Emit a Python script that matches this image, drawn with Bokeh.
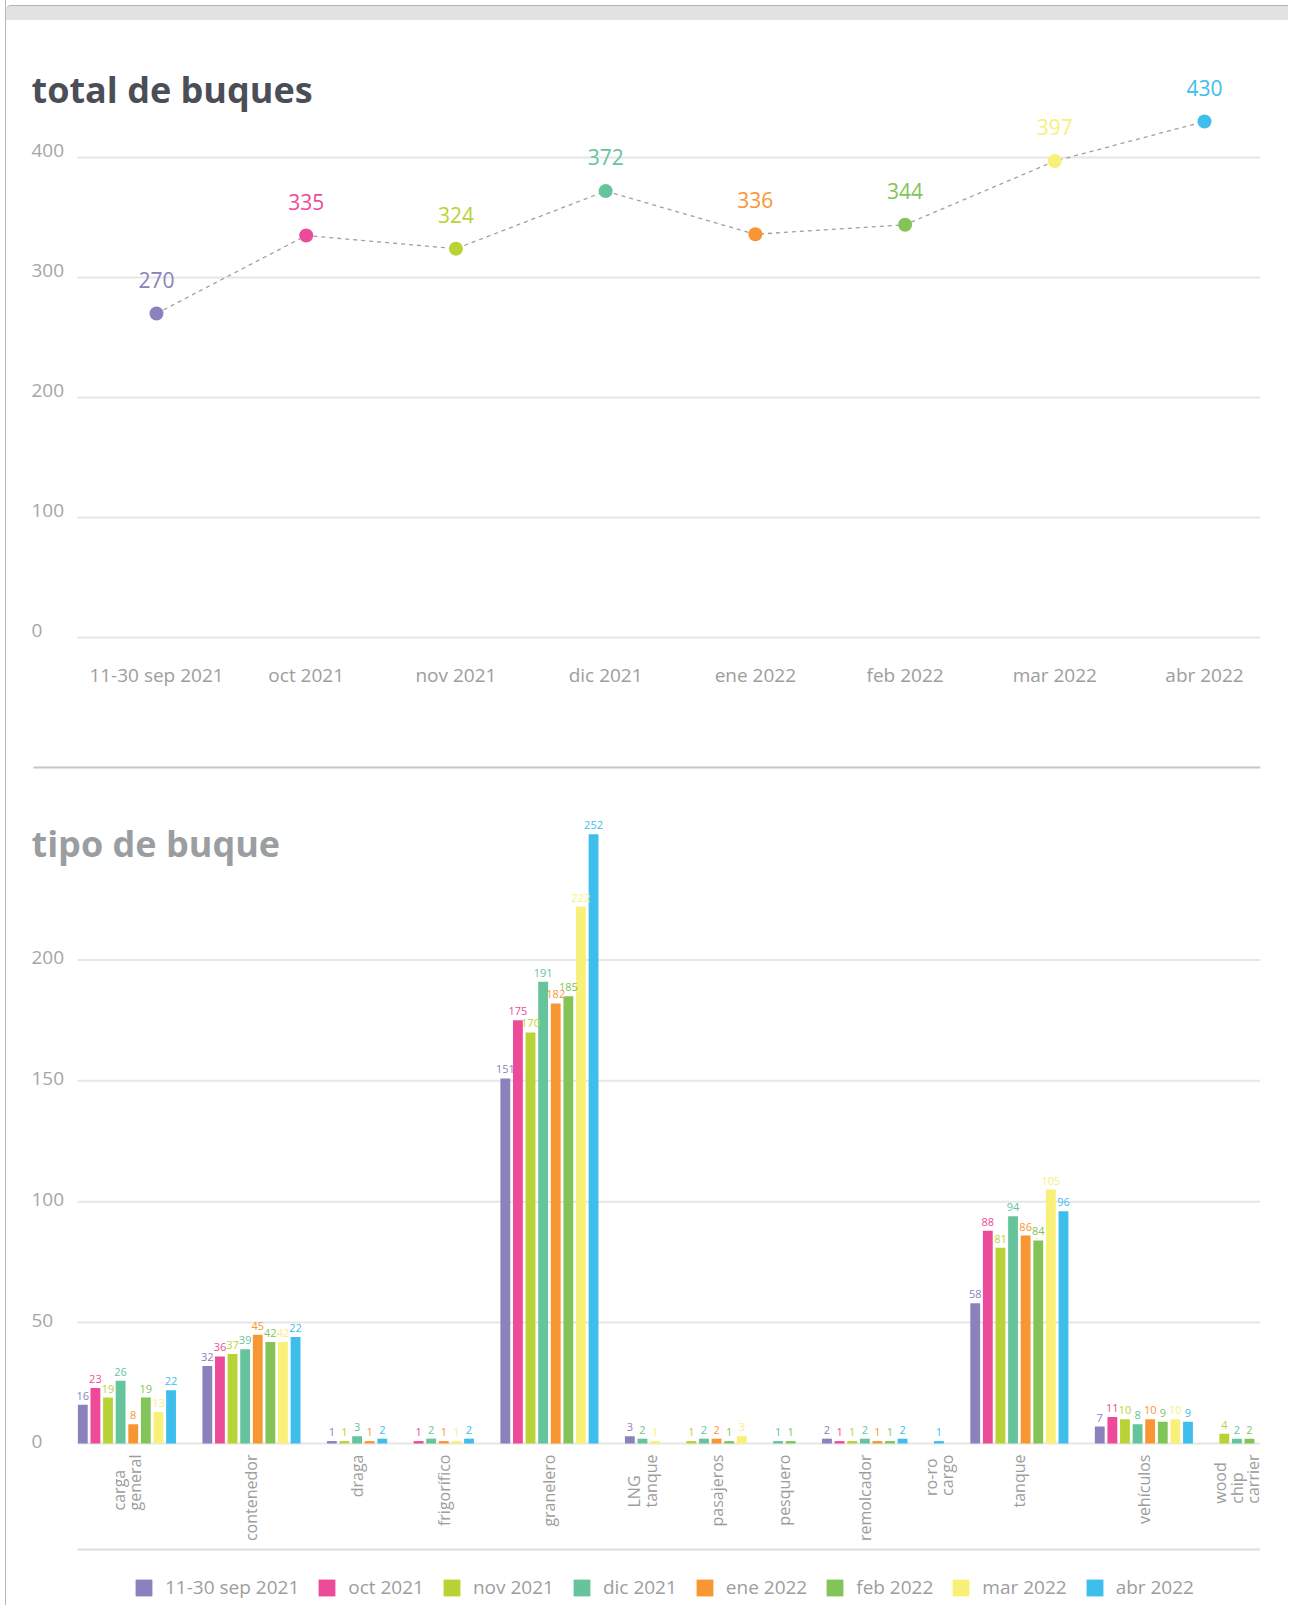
import math
from bokeh.plotting import figure
from bokeh.models import (ColumnDataSource, Range1d, FixedTicker, LabelSet, Div)
from bokeh.layouts import column
from bokeh.embed import file_html
from bokeh.resources import INLINE
from bokeh.core.properties import field, value

FONT = "Open Sans"

# ---------------- data ----------------
months = ["11-30 sep 2021", "oct 2021", "nov 2021", "dic 2021",
          "ene 2022", "feb 2022", "mar 2022", "abr 2022"]
colors = ["#8a82bd", "#ee4a9a", "#b8d335", "#65c49b",
          "#f89633", "#82c458", "#f9f07a", "#3dbeec"]
totals = [270, 335, 324, 372, 336, 344, 397, 430]
top_ticks = [0, 100, 200, 300, 400]

categories = ["carga general", "contenedor", "draga", "frigorífico", "granelero",
              "LNG tanque", "pasajeros", "pesquero", "remolcador", "ro-ro cargo",
              "tanque", "vehículos", "wood chip carrier"]
sep_2021 = [16, 32, 1, 0, 151, 3, 0, 0, 2, 0, 58, 7, 0]
oct_2021 = [23, 36, 0, 1, 175, 0, 0, 0, 1, 0, 88, 11, 0]
nov_2021 = [19, 37, 1, 0, 170, 0, 1, 0, 1, 0, 81, 10, 4]
dic_2021 = [26, 39, 3, 2, 191, 2, 2, 1, 2, 0, 94, 8, 2]
ene_2022 = [8, 45, 1, 1, 182, 0, 2, 0, 1, 0, 86, 10, 0]
feb_2022 = [19, 42, 0, 0, 185, 0, 1, 1, 1, 0, 84, 9, 2]
mar_2022 = [13, 42, 0, 1, 222, 1, 3, 0, 0, 0, 105, 10, 0]
abr_2022 = [22, 44, 2, 2, 252, 0, 0, 0, 2, 1, 96, 9, 0]
series = [sep_2021, oct_2021, nov_2021, dic_2021, ene_2022, feb_2022, mar_2022, abr_2022]
label_overrides = {("contenedor", "abr 2022"): "22"}
bottom_ticks = [0, 50, 100, 150, 200]

# ---------------- layout constants (page pixels) ----------------
X0 = 6            # left edge of figures on the page
FIG_W = 1282
GRID_X0 = 77      # where grid lines start
FRAME_R = 1260    # right edge of plotting area
LABEL_X = 31      # left edge of tick labels / titles
GRID_C = "#e6e6e6"
TICK_C = "#a6a6a6"
AXIS_C = "#9d9d9d"

# ---------------- top card bar ----------------
top_bar = Div(text="", width=FIG_W, height=15, margin=(5, 0, 0, 0),
              styles={"background-color": "#e2e2e2", "border-top": "1px solid #b4b4b4",
                      "border-top-left-radius": "5px", "box-sizing": "border-box"})

# ---------------- chart 1: total de buques ----------------
P1_TOP, P1_H = 20, 745
Y0_1, PPU_1 = 637, 1.2            # page y of value 0, px per unit
P1_FB = 640                       # frame bottom
X_FIRST, X_LAST = 156, 1204       # page x of first / last month
ppx1 = (X_LAST - X_FIRST) / (len(months) - 1)
x1_start = -(X_FIRST - X0) / ppx1
x1_end = (len(months) - 1) + (FRAME_R - X_LAST) / ppx1
x1_grid0 = -(X_FIRST - GRID_X0) / ppx1

p1 = figure(width=FIG_W, height=P1_H, x_range=Range1d(x1_start, x1_end),
            y_range=Range1d(-(P1_FB - Y0_1) / PPU_1, (Y0_1 - P1_TOP) / PPU_1),
            output_backend="svg", toolbar_location=None,
            min_border_left=0, min_border_right=X0 + FIG_W - FRAME_R, min_border_top=0,
            min_border_bottom=P1_TOP + P1_H - P1_FB)
p1.outline_line_color = None
p1.background_fill_color = "white"
p1.border_fill_color = "white"
p1.yaxis.visible = False
p1.grid.visible = False
xa = p1.xaxis[0]
xa.ticker = FixedTicker(ticks=list(range(len(months))))
xa.major_label_overrides = {i: m for i, m in enumerate(months)}
xa.axis_line_color = None
xa.major_tick_line_color = None
xa.major_tick_out = 0
xa.major_tick_in = 0
xa.minor_tick_line_color = None
xa.major_label_text_font = FONT
xa.major_label_text_font_size = "19px"
xa.major_label_text_color = AXIS_C
xa.major_label_standoff = 21

p1.segment(x0=[x1_grid0] * len(top_ticks), x1=[x1_end] * len(top_ticks),
           y0=top_ticks, y1=top_ticks, line_color=GRID_C, line_width=2)

xs = list(range(len(months)))
src1 = ColumnDataSource(dict(x=xs, y=totals, c=colors, t=[str(v) for v in totals]))
p1.line(x="x", y="y", source=src1, line_dash="4 4", line_color="#a0a0a0", line_width=1.3)
p1.scatter(x="x", y="y", source=src1, size=14, fill_color=field("c"), line_color=None)
p1.add_layout(LabelSet(x="x", y="y", text="t", source=src1, text_color=field("c"),
                       text_align="center", text_baseline="alphabetic", y_offset=26,
                       text_font=value(FONT), text_font_size=value("21px")))
tick_src1 = ColumnDataSource(dict(x=[LABEL_X - X0] * len(top_ticks), y=top_ticks,
                                  t=[str(t) for t in top_ticks]))
p1.add_layout(LabelSet(x="x", y="y", text="t", source=tick_src1, x_units="screen",
                       text_align="left", text_baseline="middle", y_offset=7,
                       text_font=value(FONT), text_font_size=value("19px"),
                       text_color=TICK_C))
title_src1 = ColumnDataSource(dict(x=[LABEL_X - X0], y=[(Y0_1 - 102) / PPU_1],
                                   t=["total de buques"]))
p1.add_layout(LabelSet(x="x", y="y", text="t", source=title_src1, x_units="screen",
                       text_align="left", text_baseline="alphabetic",
                       text_font=value(FONT), text_font_size=value("36px"),
                       text_font_style="bold", text_color="#4b4e57"))

# ---------------- chart 2: tipo de buque ----------------
P2_TOP = P1_TOP + P1_H
P2_H = 840
Y0_2, PPU_2 = 1443, 2.418
GROUP_GAP = 1.88
BAR_X0, BAR_X1 = 76, 1255.3       # page x of first slot left / last slot right

slot_x = {}
centers = []
pos = 0.0
for i, cat in enumerate(categories):
    start = pos
    for j, m in enumerate(months):
        if series[j][i] > 0:
            slot_x[(cat, m)] = pos + 0.5
            pos += 1
    centers.append((start + pos) / 2)
    pos += GROUP_GAP
span = pos - GROUP_GAP
ppx2 = (BAR_X1 - BAR_X0) / span
x2_start = -(BAR_X0 - X0) / ppx2
x2_end = span + (FRAME_R - BAR_X1) / ppx2
x2_grid0 = (GRID_X0 - BAR_X0) / ppx2

y2_end = (Y0_2 - P2_TOP) / PPU_2
y2_start = -(P2_TOP + P2_H - Y0_2) / PPU_2

p2 = figure(width=FIG_W, height=P2_H, x_range=Range1d(x2_start, x2_end),
            y_range=Range1d(y2_start, y2_end), output_backend="svg", toolbar_location=None,
            min_border_left=0, min_border_right=X0 + FIG_W - FRAME_R, min_border_top=0,
            min_border_bottom=0)
p2.outline_line_color = None
p2.background_fill_color = "white"
p2.border_fill_color = "white"
p2.xaxis.visible = False
p2.yaxis.visible = False
p2.grid.visible = False

# separator line at top and baseline line at bottom
sep_y = (Y0_2 - 767) / PPU_2
base_y = -(1549 - Y0_2) / PPU_2
p2.segment(x0=[(33 - BAR_X0) / ppx2], x1=[x2_end], y0=[sep_y], y1=[sep_y],
           line_color="#c6c6c6", line_width=2)
p2.segment(x0=[x2_grid0], x1=[x2_end], y0=[base_y], y1=[base_y],
           line_color="#dddddd", line_width=2)
p2.segment(x0=[x2_grid0] * len(bottom_ticks), x1=[x2_end] * len(bottom_ticks),
           y0=bottom_ticks, y1=bottom_ticks, line_color=GRID_C, line_width=2)

for j, m in enumerate(months):
    bx, bt, bl = [], [], []
    for i, cat in enumerate(categories):
        v = series[j][i]
        if v > 0:
            bx.append(slot_x[(cat, m)])
            bt.append(v)
            bl.append(label_overrides.get((cat, m), str(v)))
    s = ColumnDataSource(dict(x=bx, top=bt, lab=bl))
    p2.vbar(x="x", top="top", width=0.78, source=s, fill_color=colors[j],
            line_color=None, legend_label=m)
    p2.add_layout(LabelSet(x="x", y="top", text="lab", source=s, text_color=colors[j],
                           text_align="center", text_baseline="alphabetic", y_offset=5,
                           text_font=value(FONT), text_font_size=value("11px")))

cat_src = ColumnDataSource(dict(x=centers, y=[0] * len(categories),
                                t=[c.replace(" ", "\n") for c in categories]))
p2.add_layout(LabelSet(x="x", y="y", text="t", source=cat_src, angle=math.pi / 2,
                       text_align="right", text_baseline="middle", y_offset=-11,
                       text_font=value(FONT), text_font_size=value("16px"),
                       text_color=AXIS_C, text_line_height=0.75))

tick_src2 = ColumnDataSource(dict(x=[LABEL_X - X0] * len(bottom_ticks), y=bottom_ticks,
                                  t=[str(t) for t in bottom_ticks]))
p2.add_layout(LabelSet(x="x", y="y", text="t", source=tick_src2, x_units="screen",
                       text_align="left", text_baseline="middle", y_offset=2,
                       text_font=value(FONT), text_font_size=value("19px"),
                       text_color=TICK_C))
title_src2 = ColumnDataSource(dict(x=[LABEL_X - X0], y=[(Y0_2 - 856) / PPU_2],
                                   t=["tipo de buque"]))
p2.add_layout(LabelSet(x="x", y="y", text="t", source=title_src2, x_units="screen",
                       text_align="left", text_baseline="alphabetic",
                       text_font=value(FONT), text_font_size=value("36px"),
                       text_font_style="bold", text_color="#9a9ea1"))

lg = p2.legend[0]
lg.location = (124 - X0 + 9, P2_TOP + P2_H - 1600)
lg.orientation = "horizontal"
lg.glyph_width = 21
lg.glyph_height = 21
lg.label_standoff = 11
lg.spacing = 17
lg.label_text_font = FONT
lg.label_text_font_size = "19px"
lg.label_text_color = AXIS_C
lg.border_line_color = None
lg.background_fill_alpha = 0
lg.padding = 4
lg.margin = 0

page = column(top_bar, p1, p2, margin=(0, 0, 0, 5),
              styles={"border-left": "1px solid #b9b9b9"})

open("out.html", "w").write(file_html(page, INLINE))
